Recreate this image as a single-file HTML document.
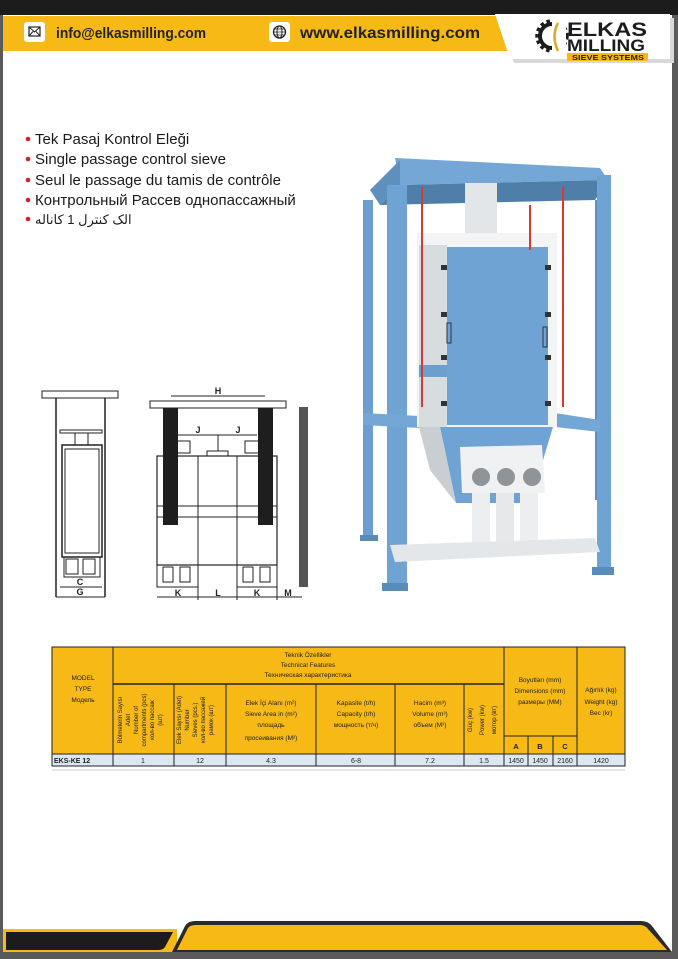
<!DOCTYPE html>
<html><head><meta charset="utf-8"><style>
body{margin:0;width:678px;height:959px;overflow:hidden;background:#fff}
svg{display:block}
text{font-family:"Liberation Sans",sans-serif}
</style></head><body>
<svg width="678" height="959" viewBox="0 0 678 959" xmlns="http://www.w3.org/2000/svg">
<rect x="0" y="0" width="678" height="959" fill="#5a5a5a"/>
<rect x="3" y="0" width="669" height="952" fill="#fff"/>
<rect x="0" y="0" width="678" height="15" fill="#1c1c1c"/>
<rect x="3" y="16" width="510" height="35" fill="#f6b915"/>
<polygon points="497,15 672,15 672,60 512,60" fill="#d9d9d9" transform="translate(2,3)"/>
<polygon points="495,14 670,14 670,59 510,59" fill="#fff"/>
<rect x="24" y="22" width="21" height="20" rx="3" fill="#fff"/>
<rect x="29" y="27" width="11" height="9" fill="none" stroke="#222" stroke-width="1.2"/>
<path d="M29 27 L34.5 32 L40 27 M29 36 L33 31.5 M40 36 L36 31.5" stroke="#222" fill="none" stroke-width="1"/>
<text x="56" y="38" font-size="15" font-weight="bold" fill="#222" textLength="150" lengthAdjust="spacingAndGlyphs">info@elkasmilling.com</text>
<rect x="269" y="22" width="21" height="20" rx="3" fill="#fff"/>
<circle cx="279.5" cy="32" r="6" fill="none" stroke="#222" stroke-width="1.3"/>
<ellipse cx="279.5" cy="32" rx="2.5" ry="6" fill="none" stroke="#222" stroke-width="1"/>
<path d="M273.5 32 H285.5 M274.5 29 H284.5 M274.5 35 H284.5" stroke="#222" stroke-width="0.8"/>
<text x="300" y="38" font-size="16" font-weight="bold" fill="#222" textLength="180" lengthAdjust="spacingAndGlyphs">www.elkasmilling.com</text>
<!-- logo -->
<circle cx="552" cy="36" r="12" fill="none" stroke="#1c1c1c" stroke-width="4"/>
<circle cx="552" cy="36" r="15" fill="none" stroke="#1c1c1c" stroke-width="3.5" stroke-dasharray="3.5 3"/>
<rect x="552" y="15" width="14" height="44" fill="#fff"/>
<path d="M558 23 Q551 36 558 51" stroke="#e0a820" stroke-width="2.5" fill="none"/>
<text x="567" y="36" font-size="19" font-weight="bold" fill="#1c1c1c" textLength="80" lengthAdjust="spacingAndGlyphs">ELKAS</text>
<text x="567" y="51" font-size="17" font-weight="bold" fill="#1c1c1c" textLength="78" lengthAdjust="spacingAndGlyphs">MILLING</text>
<rect x="567" y="53" width="81" height="8" fill="#f6b915"/>
<text x="572" y="60" font-size="7" font-weight="bold" fill="#1c1c1c" textLength="72" lengthAdjust="spacingAndGlyphs">SIEVE SYSTEMS</text>

<g font-size="15" fill="#1a1a1a">
<circle cx="28" cy="139" r="2.3" fill="#d0202a"/><text x="35" y="144">Tek Pasaj Kontrol Eleği</text>
<circle cx="28" cy="159" r="2.3" fill="#d0202a"/><text x="35" y="164">Single passage control sieve</text>
<circle cx="28" cy="180" r="2.3" fill="#d0202a"/><text x="35" y="185">Seul le passage du tamis de contrôle</text>
<circle cx="28" cy="200" r="2.3" fill="#d0202a"/><text x="35" y="205">Контрольный Рассев однопассажный</text>
<circle cx="28" cy="219" r="2.3" fill="#d0202a"/><text x="35" y="224" font-size="13" font-family="DejaVu Sans,sans-serif">الک کنترل 1 کاناله</text>
</g>

<g>
<polygon points="363,200 373,200 373,540 363,540" fill="#6c9fce"/>
<polygon points="595,200 603,200 603,500 595,500" fill="#5f90bd"/>
<polygon points="395,158 600,168 608,180 400,185" fill="#74a7d6"/>
<polygon points="370,190 400,160 400,185 380,205" fill="#5f90bd"/>
<polygon points="400,185 608,180 595,200 380,205" fill="#4f7fa8"/>
<rect x="387" y="185" width="20" height="405" fill="#6fa3d3"/>
<rect x="382" y="583" width="26" height="8" fill="#5a8cb8"/>
<rect x="597" y="175" width="14" height="400" fill="#6fa3d3"/>
<rect x="592" y="567" width="22" height="8" fill="#5a8cb8"/>
<rect x="360" y="535" width="18" height="6" fill="#5a8cb8"/>
<polygon points="363,413 420,416 420,428 363,425" fill="#74a7d6"/>
<polygon points="555,413 600,420 600,432 555,427" fill="#74a7d6"/>
<rect x="465" y="183" width="32" height="50" fill="#e3e6e8"/>
<rect x="417" y="233" width="140" height="194" fill="#f2f4f5"/>
<rect x="419" y="245" width="28" height="182" fill="#d7dcdf"/>
<rect x="447" y="247" width="101" height="178" fill="#6fa3d4"/>
<rect x="419" y="365" width="28" height="12" fill="#6c9fce"/>
<polygon points="440,427 553,427 530,503 456,503" fill="#6fa3d4"/>
<polygon points="419,427 440,427 456,503 430,470" fill="#c8ced2"/>
<polygon points="460,447 542,445 545,493 462,493" fill="#f0f1f2"/>
<circle cx="481" cy="477" r="9" fill="#8f9499"/><circle cx="506" cy="477" r="9" fill="#8f9499"/><circle cx="532" cy="477" r="9" fill="#8f9499"/>
<rect x="472" y="493" width="18" height="58" fill="#eceeef"/><rect x="496" y="493" width="18" height="58" fill="#e6e8ea"/><rect x="520" y="493" width="18" height="58" fill="#eceeef"/>
<polygon points="390,545 595,538 600,552 395,562" fill="#e4e7e9"/>
<g fill="#333"><rect x="441" y="265" width="6" height="5"/><rect x="441" y="312" width="6" height="5"/><rect x="441" y="355" width="6" height="5"/><rect x="441" y="401" width="6" height="5"/><rect x="545" y="265" width="6" height="5"/><rect x="545" y="312" width="6" height="5"/><rect x="545" y="355" width="6" height="5"/><rect x="545" y="401" width="6" height="5"/></g>
<rect x="447" y="323" width="4" height="20" fill="none" stroke="#333" stroke-width="1"/>
<rect x="543" y="327" width="4" height="20" fill="none" stroke="#333" stroke-width="1"/>
<g stroke="#d93a30" stroke-width="2"><line x1="422" y1="187" x2="422" y2="407"/><line x1="530" y1="205" x2="530" y2="250"/><line x1="563" y1="187" x2="563" y2="407"/></g>
</g>

<g stroke="#222" fill="none" stroke-width="1">
<rect x="42" y="391" width="76" height="7"/>
<line x1="56" y1="398" x2="56" y2="597" stroke-width="1.5"/><line x1="105" y1="398" x2="105" y2="597" stroke-width="1.5"/>
<rect x="60" y="430" width="42" height="3"/>
<rect x="75" y="433" width="13" height="12"/>
<rect x="62" y="445" width="40" height="112" stroke-width="1.5"/>
<rect x="65" y="449" width="34" height="104"/>
<rect x="64" y="557" width="36" height="20"/>
<rect x="66" y="559" width="12" height="15"/><rect x="83" y="559" width="12" height="15"/>
<line x1="60" y1="587" x2="102" y2="587"/><line x1="56" y1="597" x2="105" y2="597"/>
<rect x="150" y="401" width="136" height="7"/>
<line x1="171" y1="396" x2="265" y2="396"/>
<rect x="157" y="456" width="120" height="109" stroke-width="1.2"/>
<line x1="198" y1="456" x2="198" y2="565"/><line x1="237" y1="456" x2="237" y2="565"/>
<rect x="157" y="506" width="120" height="11"/>
<rect x="207" y="451" width="21" height="5"/>
<line x1="178" y1="435" x2="257" y2="435"/><line x1="218" y1="435" x2="218" y2="451"/>
<rect x="176" y="441" width="14" height="12"/><rect x="245" y="441" width="14" height="12"/>
<rect x="157" y="565" width="41" height="22"/><rect x="237" y="565" width="40" height="22"/>
<rect x="163" y="567" width="10" height="15"/><rect x="180" y="567" width="10" height="15"/>
<rect x="243" y="567" width="10" height="15"/><rect x="260" y="567" width="10" height="15"/>
<line x1="157" y1="597" x2="302" y2="597"/>
<line x1="198" y1="587" x2="198" y2="600"/><line x1="237" y1="587" x2="237" y2="600"/><line x1="277" y1="587" x2="277" y2="600"/>
</g>
<rect x="163" y="408" width="15" height="117" fill="#1e1e1e"/>
<rect x="258" y="408" width="15" height="117" fill="#1e1e1e"/>
<rect x="299" y="407" width="9" height="180" fill="#555"/>
<g font-size="9" font-weight="bold" fill="#222" text-anchor="middle">
<text x="80" y="585">C</text><text x="80" y="595">G</text>
<text x="218" y="394">H</text><text x="198" y="433">J</text><text x="238" y="433">J</text>
<text x="178" y="596">K</text><text x="218" y="596">L</text><text x="257" y="596">K</text><text x="288" y="596">M</text>
</g>

<g stroke="#222" stroke-width="1">
<rect x="52" y="647" width="573" height="107" fill="#f6b915"/>
<rect x="52" y="754" width="573" height="12" fill="#dbe8f2"/>
<line x1="113" y1="647" x2="113" y2="766"/>
<line x1="113" y1="684" x2="504" y2="684" stroke-width="1.5"/>
<line x1="174" y1="684" x2="174" y2="766"/><line x1="226" y1="684" x2="226" y2="766"/>
<line x1="316" y1="684" x2="316" y2="766"/><line x1="395" y1="684" x2="395" y2="766"/>
<line x1="464" y1="684" x2="464" y2="766"/><line x1="504" y1="647" x2="504" y2="766"/>
<line x1="504" y1="736" x2="577" y2="736"/>
<line x1="528" y1="736" x2="528" y2="766"/><line x1="553" y1="736" x2="553" y2="766"/>
<line x1="577" y1="647" x2="577" y2="766"/>
</g>
<line x1="52" y1="770" x2="625" y2="770" stroke="#999" stroke-width="0.6"/>
<g font-size="6.5" fill="#222" text-anchor="middle">
<text x="308" y="657">Teknik Özellikler</text><text x="308" y="667">Technical Features</text><text x="308" y="677">Техническая характеристика</text>
<text x="83" y="680">MODEL</text><text x="83" y="691">TYPE</text><text x="83" y="702">Модель</text>
<text x="271" y="705">Elek İçi Alanı (m²)</text><text x="271" y="716">Sieve Area in (m²)</text><text x="271" y="727">площадь</text><text x="271" y="740">просеивания (M²)</text>
<text x="356" y="705">Kapasite (t/h)</text><text x="356" y="716">Capacity (t/h)</text><text x="356" y="727">мощность (т/ч)</text>
<text x="430" y="705">Hacim (m³)</text><text x="430" y="716">Volume (m³)</text><text x="430" y="727">объем (M³)</text>
<text x="540" y="682">Boyutları (mm)</text><text x="540" y="693">Dimensions (mm)</text><text x="540" y="704">размеры (MM)</text>
<text x="601" y="692">Ağırlık (kg)</text><text x="601" y="704">Weight (kg)</text><text x="601" y="715">Bec (kr)</text>
<g font-weight="bold" font-size="7.5"><text x="516" y="749">A</text><text x="540" y="749">B</text><text x="565" y="749">C</text></g>
<g font-size="6"><text transform="translate(122,720) rotate(-90)">Bölmelerin Sayısı</text><text transform="translate(130,720) rotate(-90)">Adet</text><text transform="translate(138,720) rotate(-90)">Number of</text><text transform="translate(146,720) rotate(-90)">compartments (pcs)</text><text transform="translate(154,720) rotate(-90)">кол-во пассаж</text><text transform="translate(162,720) rotate(-90)">(шт)</text>
<text transform="translate(181,720) rotate(-90)">Elek Sayısı (Adet)</text><text transform="translate(189,720) rotate(-90)">Number</text><text transform="translate(197,720) rotate(-90)">Sieves (pcs.)</text><text transform="translate(205,720) rotate(-90)">кол-во пассажей</text><text transform="translate(213,720) rotate(-90)">рамок (шт)</text>
<text transform="translate(472,720) rotate(-90)">Güç (kw)</text><text transform="translate(484,720) rotate(-90)">Power (kw)</text><text transform="translate(496,720) rotate(-90)">мотор (вт)</text></g>
</g>
<g font-size="7" fill="#222" text-anchor="middle">
<text x="54" y="763" text-anchor="start" font-weight="bold">EKS-KE 12</text>
<text x="143" y="763">1</text><text x="200" y="763">12</text><text x="271" y="763">4.3</text><text x="356" y="763">6-8</text><text x="430" y="763">7.2</text><text x="484" y="763">1.5</text>
<text x="516" y="763">1450</text><text x="540" y="763">1450</text><text x="565" y="763">2160</text><text x="601" y="763">1420</text>
</g>

<rect x="3" y="929" width="174" height="23" fill="#f6b915"/>
<path d="M6 932 H173 L165 947 Q163 950 158 950 H6 Z" fill="#1c1c1c"/>
<path d="M172 952 L185 926 Q188 921 195 921 H641 Q648 921 652 926 L672 952 Z" fill="#2a2a2a"/>
<path d="M177 950 L188 928 Q190 925 196 925 H640 Q645 925 648 929 L667 950 Z" fill="#f6b915"/>
</svg>
</body></html>
